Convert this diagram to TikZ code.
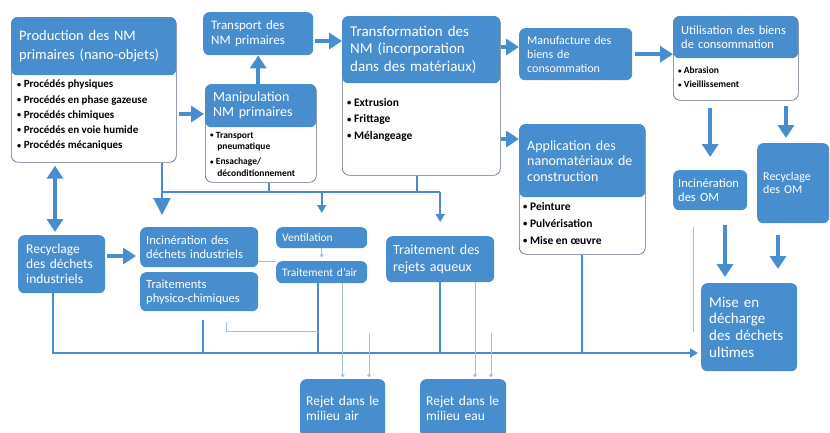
\documentclass[tikz,border=0pt]{standalone}
\usepackage{fontspec}
\setmainfont{Carlito}
\usepackage{tikz}
\usetikzlibrary{arrows.meta}

\definecolor{nmblue}{RGB}{72,142,206}
\definecolor{bordure}{RGB}{96,110,135}
\definecolor{palebleu}{RGB}{168,192,222}

\newcommand{\puce}{\raisebox{0.12ex}{\scalebox{0.75}{\textbullet}}\ }

\tikzset{
  Gros/.tip={Triangle[width=16pt,length=13pt]},
  Large/.tip={Triangle[width=17pt,length=17pt]},
  Moyen/.tip={Triangle[width=9pt,length=8pt]},
  Point/.tip={Circle[length=3.5pt]},
  entete/.style={fill=nmblue, text=white, rounded corners=6pt, anchor=north west, align=left, inner xsep=8pt, inner ysep=2pt},
  cadre/.style={draw=bordure, fill=white, line width=0.7pt, rounded corners=7pt, anchor=north west},
  puces/.style={anchor=north west, align=left, inner sep=0pt},
  grosse/.style={nmblue, line width=4.5pt, -Gros},
  ligne/.style={nmblue, line width=2pt},
  trace/.style={palebleu, line width=0.7pt}
}

\begin{document}
\begin{tikzpicture}[x=1pt, y=-1pt]
  \path[use as bounding box] (0,0) rectangle (830,432);
  \clip (0,0) rectangle (830,432);
  \fill[white] (0,0) rectangle (830,432);

  % production
  \node[cadre, minimum width=165pt, minimum height=145pt] (prod) at (11,17) {};
  \node[entete, text width=149pt, minimum height=58pt, font=\fontsize{14.5}{19}\selectfont] (prodhead) at (11,17) {Production des NM\\primaires (nano-objets)};
  \node[puces, font=\bfseries\fontsize{11}{15.2}\selectfont] (prodlist) at (17,80) {\puce Procédés physiques\\\puce Procédés en phase gazeuse\\\puce Procédés chimiques\\\puce Procédés en voie humide\\\puce Procédés mécaniques};

  % manipulation / transport
  \node[cadre, minimum width=111pt, minimum height=98pt] (manip) at (205,84) {};
  \node[entete, text width=95pt, minimum height=43pt, font=\fontsize{14}{15}\selectfont] (maniphead) at (205,84) {Manipulation\\NM primaires};
  \node[puces, font=\bfseries\fontsize{9.5}{15}\selectfont] (maniplist) at (210,132) {\puce Transport\\[-3.5pt]\hspace*{0.75em}pneumatique\\\puce Ensachage/\\[-3.5pt]\hspace*{0.75em}déconditionnement};
  \node[entete, text width=94pt, minimum height=43pt, font=\fontsize{13}{15}\selectfont] (transport) at (203,12) {Transport des\\NM primaires};

  % transformation
  \node[cadre, minimum width=158pt, minimum height=159pt] (transfo) at (342,16) {};
  \node[entete, text width=142pt, minimum height=67pt, font=\fontsize{15}{17.5}\selectfont] (transfohead) at (342,16) {Transformation des\\NM (incorporation\\dans des matériaux)};
  \node[puces, font=\bfseries\fontsize{11.5}{16.5}\selectfont] (transfolist) at (347,98) {\puce Extrusion\\\puce Frittage\\\puce Mélangeage};

  % biens de consommation
  \node[entete, text width=97pt, minimum height=52pt, font=\fontsize{12}{14}\selectfont] (manuf) at (519,28) {Manufacture des\\biens de\\consommation};
  \node[cadre, minimum width=125pt, minimum height=84pt] (util) at (673,16) {};
  \node[entete, text width=109pt, minimum height=42pt, font=\fontsize{12.5}{13.5}\selectfont] (utilhead) at (673,16) {Utilisation des biens\\de consommation};
  \node[puces, font=\bfseries\fontsize{9.5}{14}\selectfont] (utillist) at (678,67) {\puce Abrasion\\\puce Vieillissement};

  % construction
  \node[cadre, minimum width=126pt, minimum height=130pt] (appli) at (519,124) {};
  \node[entete, text width=110pt, minimum height=73pt, font=\fontsize{14}{15.5}\selectfont] (applihead) at (519,124) {Application des\\nanomatériaux de\\construction};
  \node[puces, font=\bfseries\fontsize{11.5}{17}\selectfont] (applilist) at (523,202) {\puce Peinture\\\puce Pulvérisation\\\puce Mise en œuvre};

  % ordures menageres
  \node[entete, inner xsep=5pt, text width=64pt, minimum height=40pt, font=\fontsize{12.5}{14}\selectfont] (incom) at (673,170) {Incinération\\des OM};
  \node[entete, inner xsep=6pt, text width=60pt, minimum height=80pt, font=\fontsize{12}{13}\selectfont] (recom) at (757,143) {Recyclage\\des OM};
  \node[entete, text width=80pt, minimum height=88pt, font=\fontsize{15}{16.7}\selectfont] (mise) at (701,283) {Mise en\\décharge\\des déchets\\ultimes};

  % dechets industriels
  \node[entete, text width=71pt, minimum height=58pt, font=\fontsize{13.5}{15}\selectfont] (recdi) at (18,235) {Recyclage\\des déchets\\industriels};
  \node[entete, inner xsep=6pt, text width=106pt, minimum height=40pt, font=\fontsize{12.5}{14}\selectfont] (incdi) at (140,227) {Incinération des\\déchets industriels};
  \node[entete, inner xsep=6pt, text width=106pt, minimum height=39pt, font=\fontsize{12.5}{14}\selectfont] (physico) at (140,272) {Traitements\\physico-chimiques};
  \node[entete, inner xsep=6pt, inner ysep=1pt, text width=79pt, minimum height=21pt, font=\fontsize{11.5}{13}\selectfont] (vent) at (276,227) {Ventilation};
  \node[entete, inner xsep=6pt, inner ysep=1pt, text width=79pt, minimum height=22pt, font=\fontsize{11.5}{13}\selectfont] (air) at (276,261) {Traitement d'air};
  \node[entete, inner xsep=7pt, text width=94pt, minimum height=46pt, font=\fontsize{14}{17}\selectfont] (rejaq) at (386,236) {Traitement des\\rejets aqueux};

  % rejets
  \node[entete, inner xsep=6pt, text width=73pt, minimum height=58pt, font=\fontsize{13.5}{15}\selectfont] (rejair) at (300,379) {Rejet dans le\\milieu air};
  \node[entete, inner xsep=6pt, text width=74pt, minimum height=58pt, font=\fontsize{13.5}{15}\selectfont] (rejeau) at (420,379) {Rejet dans le\\milieu eau};

  % grosses fleches
  \draw[grosse, shorten <=2pt, shorten >=1pt] (prod.east |- 0,114) -- (manip.west |- 0,114);
  \draw[grosse] (manip.north -| transport.south) -- (transport.south);
  \draw[grosse, shorten <=2pt] (transport.east |- 0,41) -- (transfo.west |- 0,41);
  \draw[grosse] (transfo.east |- 0,47) -- (manuf.west |- 0,47);
  \draw[grosse] (transfo.east |- 0,139) -- (appli.west |- 0,139);
  \draw[grosse, shorten <=3pt] (manuf.east) -- (manuf.east -| util.west);
  \draw[grosse, shorten <=7pt, shorten >=13pt] (util.south -| incom.north) -- (incom.north);
  \draw[grosse, shorten <=5pt, shorten >=5pt] (util.south -| 786,0) -- (recom.north -| 786,0);
  \draw[grosse, shorten <=15pt, shorten >=6pt] (incom.south -| 725,0) -- (mise.north -| 725,0);
  \draw[grosse, shorten <=12pt, shorten >=14pt] (recom.south -| 778,0) -- (mise.north -| 778,0);
  \draw[grosse, Gros-Gros, shorten <=3pt, shorten >=3pt] (prod.south -| 55,0) -- (recdi.north -| 55,0);
  \draw[grosse, shorten <=2pt, shorten >=4pt] (recdi.east |- 0,256) -- (incdi.west |- 0,256);

  % collecteur haut
  \coordinate (busH) at (162,192);
  \draw[ligne] (prod.south -| busH) -- (busH) -- (busH -| rejaq.north);
  \draw[ligne, -Large, shorten >=12pt] (busH) -- (incdi.north -| busH);
  \draw[ligne] ([xshift=8pt]manip.south) -- ([xshift=8pt]manip.south |- busH);
  \draw[ligne] ([xshift=-4pt]transfo.south) -- ([xshift=-4pt]transfo.south |- busH);
  \draw[ligne, -Moyen, shorten >=14pt] (vent.north |- busH) -- (vent.north);
  \draw[ligne, -Moyen, shorten >=14pt] (busH -| rejaq.north) -- (rejaq.north);

  % collecteur bas
  \coordinate (busB) at (53,353);
  \draw[ligne, -Moyen, shorten >=3pt] (recdi.south -| busB) -- (busB) -- (busB -| mise.west);
  \draw[ligne, shorten <=9pt] ([xshift=4pt]physico.south) -- ([xshift=4pt]physico.south |- busB);
  \draw[ligne] ([xshift=-4pt]air.south) -- ([xshift=-4pt]air.south |- busB);
  \draw[ligne] (rejaq.south) -- (rejaq.south |- busB);
  \draw[ligne] (appli.south) -- (appli.south |- busB);

  % liaisons fines
  \draw[nmblue!55, line width=1pt] (incdi.east |- 0,261) -- (air.west |- 0,261);
  \draw[nmblue!55, line width=1pt, -Point, shorten >=4pt] (vent.south) -- (air.north);
  \draw[trace, -Point, shorten >=2pt] (air.south -| rejair.north) -- (rejair.north);
  \coordinate (pa) at (369,333);
  \draw[trace, -Point, shorten >=2pt] (pa) -- (pa |- rejair.north);
  \draw[trace, -Point, shorten >=2pt] (rejaq.south -| 475,0) -- (rejeau.north -| 475,0);
  \coordinate (pe) at (491,333);
  \draw[trace, -Point, shorten >=2pt] (pe) -- (pe |- rejeau.north);
  \coordinate (pl) at (226,322);
  \draw[trace] (pl) |- ([xshift=-4pt]air.south |- 0,331);
  \coordinate (pv) at (693,227);
  \draw[trace] (pv) -- ++(0,105);
\end{tikzpicture}
\end{document}
